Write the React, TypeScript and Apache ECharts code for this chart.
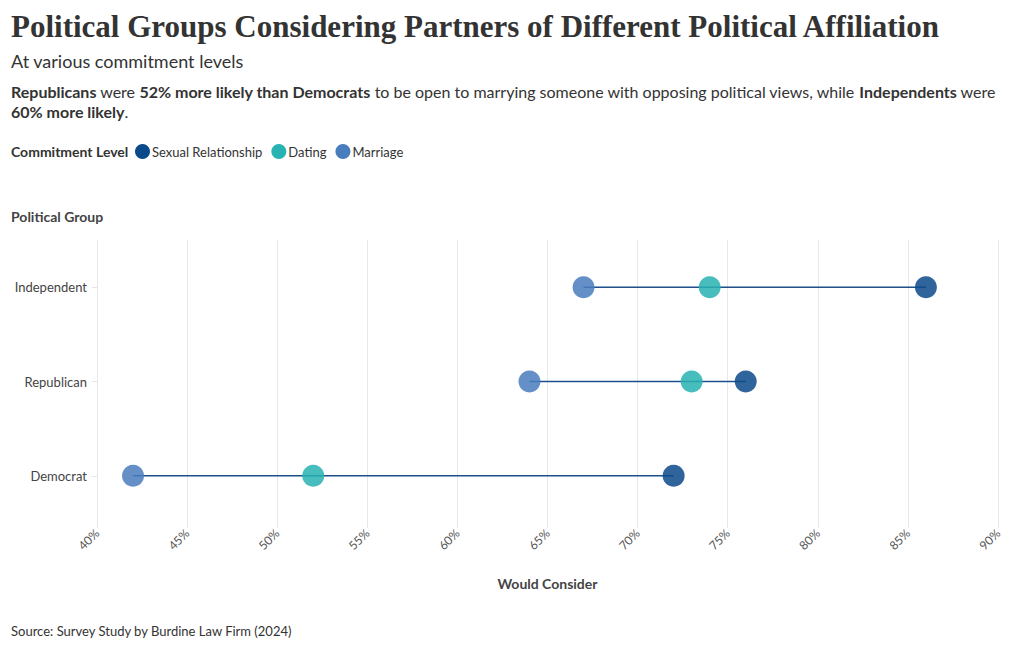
import React, { useEffect, useRef } from "react";
import * as echarts from "echarts";

const categories = ["Democrat", "Republican", "Independent"];
const seriesNames = ["Sexual Relationship", "Dating", "Marriage"];
const sexualValues = [72, 76, 86];
const datingValues = [52, 73, 74];
const marriageValues = [42, 64, 67];
const xTicks = [40, 45, 50, 55, 60, 65, 70, 75, 80, 85, 90];

const colors = ["#0b4a8a", "#28b2b2", "#4a7dbd"];
const SANS = "Lato, 'Noto Sans', sans-serif";
const SERIF = "'Liberation Serif', serif";

export default function App() {
  const ref = useRef<HTMLDivElement>(null);
  useEffect(() => {
    const chart = echarts.init(ref.current!, null, { renderer: "svg" });
    const seriesValues = [sexualValues, datingValues, marriageValues];
    const rangeData = categories.map((_, i) => {
      const vals = seriesValues.map((s) => s[i]);
      return [i, Math.min(...vals), Math.max(...vals)];
    });
    const option: any = {
      animation: false,
      color: colors,
      textStyle: { fontFamily: SANS },
      title: [
        {
          text: "Political Groups Considering Partners of Different Political Affiliation",
          left: 6,
          top: 6,
          textStyle: { fontFamily: SERIF, fontSize: 31, fontWeight: "bold", color: "#333" },
        },
        {
          text: "At various commitment levels",
          left: 6,
          top: 47,
          textStyle: { fontFamily: SANS, fontSize: 18, fontWeight: "normal", color: "#333" },
        },
        {
          text:
            "{b|Republicans}{r| were }{b|52% more likely than Democrats}{r| to be open to marrying someone with opposing political views, while }{b|Independents}{r| were}\n{b|60% more likely}{r|.}",
          left: 6,
          top: 76,
          textStyle: {
            fontFamily: SANS,
            fontSize: 16,
            lineHeight: 20,
            color: "#333",
            rich: {
              b: { fontFamily: SANS, fontSize: 16, fontWeight: "bold", color: "#333", lineHeight: 20 },
              r: { fontFamily: SANS, fontSize: 16, fontWeight: "normal", color: "#333", lineHeight: 20 },
            },
          },
        },
        {
          text: "Commitment Level",
          left: 6,
          top: 139,
          textStyle: { fontFamily: SANS, fontSize: 14, fontWeight: "bold", color: "#333" },
        },
        {
          text: "Political Group",
          left: 6,
          top: 204,
          textStyle: { fontFamily: SANS, fontSize: 14, fontWeight: "bold", color: "#444" },
        },
        {
          text: "Source: Survey Study by Burdine Law Firm (2024)",
          left: 6,
          top: 619,
          textStyle: { fontFamily: SANS, fontSize: 13, fontWeight: "normal", color: "#333" },
        },
      ],
      legend: {
        data: seriesNames,
        left: 130,
        top: 139,
        icon: "circle",
        itemWidth: 15,
        itemHeight: 15,
        itemGap: 9,
        itemStyle: { opacity: 1 },
        textStyle: { fontFamily: SANS, fontSize: 13, color: "#333", padding: [0, 0, 0, -3] },
      },
      grid: { left: 97, right: 22, top: 240, bottom: 127 },
      xAxis: {
        type: "value",
        min: xTicks[0],
        max: xTicks[xTicks.length - 1],
        interval: 5,
        name: "Would Consider",
        nameLocation: "middle",
        nameGap: 53,
        nameTextStyle: { fontFamily: SANS, fontSize: 14, fontWeight: "bold", color: "#444" },
        axisLine: { show: false },
        axisTick: { show: true, length: 5, lineStyle: { color: "#e6e6e6" } },
        splitLine: { show: true, lineStyle: { color: "#e8e8e8", width: 1 } },
        axisLabel: {
          rotate: 45,
          formatter: "{value}%",
          fontFamily: SANS,
          fontSize: 12,
          color: "#555",
          margin: 8,
        },
      },
      yAxis: {
        type: "category",
        data: categories,
        axisLine: { show: false },
        axisTick: { show: true, length: 5, alignWithLabel: true, lineStyle: { color: "#e6e6e6" } },
        splitLine: { show: false },
        axisLabel: { fontFamily: SANS, fontSize: 13, color: "#444", margin: 10 },
      },
      series: [
        {
          type: "custom",
          name: "range",
          data: rangeData,
          encode: { x: [1, 2], y: 0 },
          z: 1,
          renderItem: (params: any, api: any) => {
            const c = api.value(0);
            const p1 = api.coord([api.value(1), c]);
            const p2 = api.coord([api.value(2), c]);
            return {
              type: "line",
              shape: { x1: p1[0], y1: p1[1], x2: p2[0], y2: p2[1] },
              style: { stroke: "#1d4f8a", lineWidth: 1.5 },
            };
          },
        },
        ...seriesNames.map((name, si) => ({
          type: "scatter",
          name,
          z: 2,
          symbolSize: 22,
          itemStyle: { color: colors[si], opacity: 0.85 },
          data: seriesValues[si].map((v, i) => [v, categories[i]]),
        })),
      ],
    };
    chart.setOption(option);
    return () => chart.dispose();
  }, []);
  return (
    <div
      ref={ref}
      style={{ position: "absolute", left: 0, top: 0, width: 1020, height: 650 }}
    />
  );
}
